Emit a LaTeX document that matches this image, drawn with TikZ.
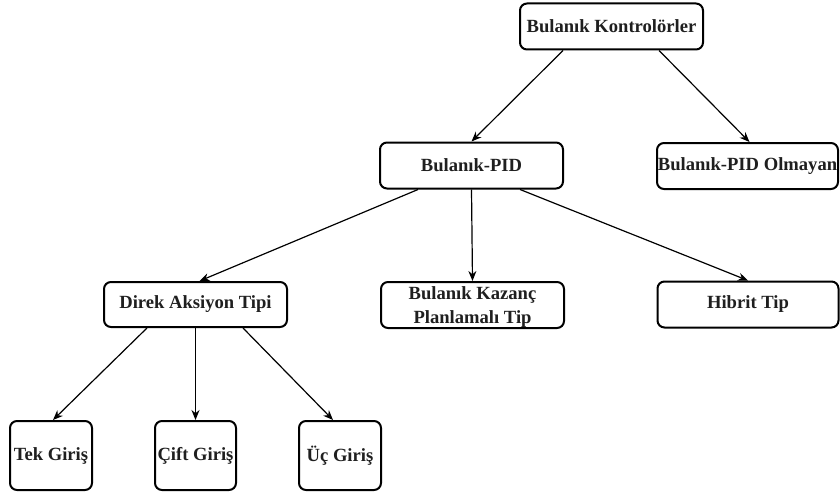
\documentclass[tikz,border=0pt]{standalone}
\usepackage{fontspec}
\setmainfont{Liberation Serif}
\usetikzlibrary{arrows.meta,calc}
\begin{document}
\begin{tikzpicture}[x=1pt,y=-1pt,
  txt/.style={inner sep=0pt,align=center,font=\fontsize{18.6}{24}\selectfont\bfseries,text=black!88},
  box/.style={txt,draw=black,line width=2pt,rounded corners=7pt},
  wide/.style={box,minimum width=183pt,minimum height=46pt},
  tall/.style={box,minimum width=82pt,minimum height=69pt},
  conn/.style={line width=1.2pt,-{Stealth[length=10pt,width=8pt]}}]
\useasboundingbox (0,0) rectangle (840,495);
\node[wide] (k) at (611.5,26.5) {Bulanık Kontrolörler};
\node[wide] (pid) at (471.5,165.5) {Bulanık-PID};
\node[wide,minimum width=181pt] (olm) at (747.5,166) {Bulanık-PID Olmayan};
\node[wide,minimum height=45pt] (dir) at (195.5,304.5) {Direk Aksiyon Tipi};
\node[wide] (kaz) at (472.5,305) {};
\node[txt] (kazt) at ($(kaz.center)+(0,2.5)$) {Bulanık Kazanç\\Planlamalı Tip};
\node[wide,minimum width=181pt] (hib) at (748,304.5) {Hibrit Tip};
\node[tall] (tek) at (51,455.5) {Tek Giriş};
\node[tall,minimum width=81pt] (cift) at (195.5,455.5) {Çift Giriş};
\node[tall] (uc) at (340,455.5) {Üç Giriş};
\draw[conn] ($(k.south)+(-48.5,0)$) -- (pid.north);
\draw[conn] ($(k.south)+(47.5,0)$) -- ($(olm.north)+(2,0)$);
\draw[conn] ($(pid.south)+(-53.5,0)$) -- ($(dir.north)+(4,0)$);
\draw[conn] (pid.south) -- (kaz.north);
\draw[conn] ($(pid.south)+(48.5,0)$) -- (hib.north);
\draw[conn] ($(dir.south)+(-48.5,0)$) -- ($(tek.north)+(2,0)$);
\draw[conn] (dir.south) -- (cift.north);
\draw[conn] ($(dir.south)+(47.5,0)$) -- ($(uc.north)+(-7,0)$);
\end{tikzpicture}
\end{document}
